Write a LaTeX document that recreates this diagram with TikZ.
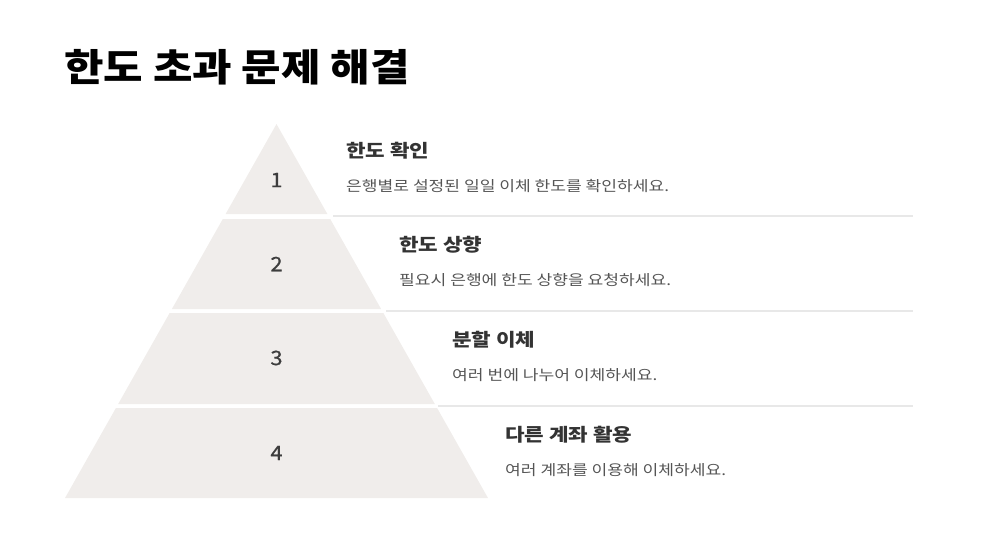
\documentclass[tikz,border=0pt]{standalone}
\usepackage{fontspec}
\setmainfont{Noto Sans CJK KR}
\newfontfamily\titlefont[FakeStretch=1.13]{Noto Sans CJK KR}
\newfontfamily\headfont[FakeStretch=1.18]{Noto Sans CJK KR}
\newfontfamily\descfont[FakeStretch=1.18]{Noto Sans CJK KR}
\newfontfamily\numfont[FakeStretch=1.1, FakeBold=0.6]{Noto Sans CJK KR}
\definecolor{bandfill}{HTML}{F0EDEB}
\definecolor{sepline}{HTML}{E8E8E8}
\definecolor{headtext}{HTML}{333333}
\definecolor{desctext}{HTML}{555555}
\tikzset{
    stepnum/.style={font=\numfont\fontsize{20}{22}\selectfont, text=headtext!95!white},
    stephead/.style={anchor=west, inner sep=0pt, font=\headfont\bfseries\fontsize{18}{20}\selectfont, text=headtext},
    stepdesc/.style={anchor=west, inner sep=0pt, font=\descfont\fontsize{14.5}{17}\selectfont, text=desctext},
    sep/.style={draw=sepline, line width=1.8pt}
}
\begin{document}
\begin{tikzpicture}[x=1pt, y=-1pt]
    \useasboundingbox (0,0) rectangle (981,542);

    % Title
    \node[anchor=west, inner sep=0pt, font=\titlefont\bfseries\fontsize{38}{42}\selectfont] (title) at (64,67) {한도 초과 문제 해결};

    % Draw the pyramid bands
    \foreach \top/\bot in {124/214, 219/309, 313/404, 408/498}
        \fill[bandfill] ({276.5-0.5655*(\top-124)}, \top) -- ({276.5+0.5655*(\top-124)}, \top)
            -- ({276.5+0.5655*(\bot-124)}, \bot) -- ({276.5-0.5655*(\bot-124)}, \bot) -- cycle;

    % Numbers on the bands
    \node[stepnum] (n1) at (276.5,180) {1};
    \node[stepnum] (n2) at (276.5,264) {2};
    \node[stepnum] (n3) at (276.5,358) {3};
    \node[stepnum] (n4) at (276.5,453) {4};

    % Separator lines
    \coordinate (s1) at (333,216);
    \coordinate (s2) at (386,311);
    \coordinate (s3) at (438,406);
    \coordinate (e1) at (913,216);
    \coordinate (e2) at (913,311);
    \coordinate (e3) at (913,406);
    \draw[sep] (s1) -- (e1);
    \draw[sep] (s2) -- (e2);
    \draw[sep] (s3) -- (e3);

    % Step texts
    \node[stephead] (h1) at (346,151) {한도 확인};
    \node[stepdesc] (d1) at (346,186) {은행별로 설정된 일일 이체 한도를 확인하세요.};
    \node[stephead] (h2) at (399,245) {한도 상향};
    \node[stepdesc] (d2) at (399,280) {필요시 은행에 한도 상향을 요청하세요.};
    \node[stephead] (h3) at (452,340) {분할 이체};
    \node[stepdesc] (d3) at (452,375) {여러 번에 나누어 이체하세요.};
    \node[stephead] (h4) at (505,435) {다른 계좌 활용};
    \node[stepdesc] (d4) at (505,470) {여러 계좌를 이용해 이체하세요.};

\end{tikzpicture}
\end{document}
